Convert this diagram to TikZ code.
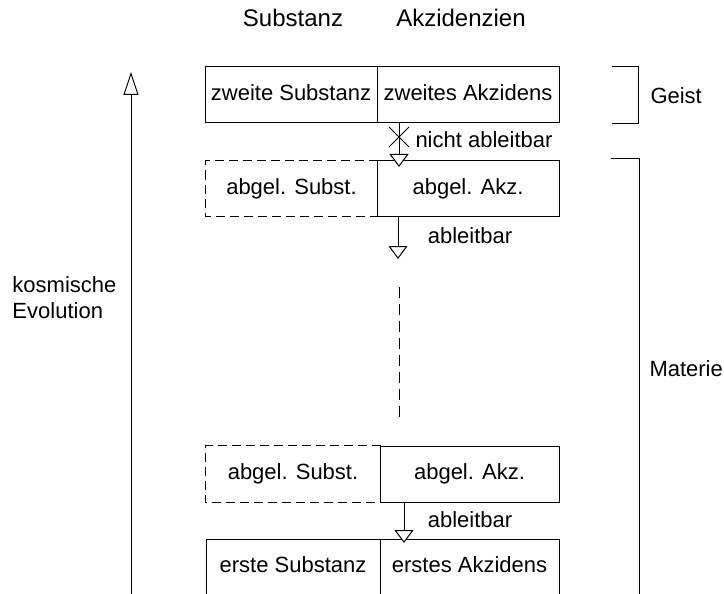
\documentclass[tikz,border=0pt]{standalone}
\usepackage{fontspec}
\setmainfont{Liberation Sans}
\usetikzlibrary{arrows.meta}
\tikzset{
  box/.style={draw, inner sep=0pt, minimum height=56pt, text height=16pt, text depth=5pt},
  dbox/.style={draw=none, inner sep=0pt, minimum height=56pt, text height=16pt, text depth=5pt},
  lbl/.style={inner sep=0pt},
  head/.style={inner sep=0pt, anchor=base, font=\fontsize{24}{28}\selectfont},
  arr/.style={-{Triangle[open, length=13pt, width=19pt, fill=white]}},
  bigarr/.style={-{Triangle[open, length=23pt, width=15pt, fill=white]}},
  dsh/.style={dash pattern=on 9pt off 5pt},
  vdsh/.style={dash pattern=on 11pt off 6pt},
}
\begin{document}
\begin{tikzpicture}[x=1pt, y=-1pt, line width=1pt, font=\fontsize{22}{26}\selectfont]
\clip (0,0) rectangle (724,594);
\fill[white] (0,0) rectangle (724,594);

% column headers
\node[head] (hsub) at (293,27) {Substanz};
\node[head] (hakz) at (461,27) {Akzidenzien};

% row 1
\node[box, minimum width=172pt] (zs) at (291,95) {zweite Substanz};
\node[box, minimum width=182pt] (za) at (468,95) {zweites Akzidens};

% row 2
\node[dbox, minimum width=171pt, minimum height=55pt] (as1) at (291.5,188.5) {abgel. Subst.};
\node[box, minimum width=182pt, minimum height=55pt] (aa1) at (468,188.5) {abgel. Akz.};
\draw[dsh] (as1.north east) -- (as1.north west) -- (as1.south west) -- (as1.south east);

% row 3
\node[dbox, minimum width=174pt] (as2) at (293,474) {abgel. Subst.};
\node[box, minimum width=179pt] (aa2) at (469.5,474) {abgel. Akz.};
\draw[dsh] (as2.north east) -- (as2.north west) -- (as2.south west) -- (as2.south east);

% row 4
\node[box, minimum width=174pt] (es) at (293,567) {erste Substanz};
\node[box, minimum width=179pt] (ea) at (469.5,567) {erstes Akzidens};

% arrow 1: nicht ableitbar
\coordinate (t1) at (399,167);
\draw[arr] (za.south -| t1) -- (t1);
\coordinate (c1) at (389,127);
\coordinate (c2) at (409,147);
\coordinate (c3) at (389,147);
\coordinate (c4) at (409,127);
\draw (c1) -- (c2);
\draw (c3) -- (c4);
\node[lbl, anchor=base west] (nab) at (415,147.5) {nicht ableitbar};

% arrow 2: ableitbar
\coordinate (t2) at (398,259);
\draw[arr] (aa1.south -| t2) -- (t2);
\node[lbl, anchor=base] (ab1) at (470,243) {ableitbar};

% dashed continuation
\coordinate (d1) at (399,287);
\coordinate (d2) at (399,417);
\draw[vdsh] (d1) -- (d2);

% arrow 3: ableitbar
\coordinate (t3) at (404,543);
\draw[arr] (aa2.south -| t3) -- (t3);
\node[lbl, anchor=base] (ab2) at (470,527) {ableitbar};

% Geist bracket
\coordinate (g1) at (612,67);
\coordinate (g2) at (638.5,67);
\coordinate (g3) at (638.5,124);
\coordinate (g4) at (612,124);
\draw (g1) -- (g2) -- (g3) -- (g4);
\node[lbl, anchor=base west] (geist) at (650,103) {Geist};

% Materie bracket
\coordinate (m1) at (611,159);
\coordinate (m2) at (639,159);
\coordinate (m3) at (639,600);
\draw (m1) -- (m2) -- (m3);
\node[lbl, anchor=base west] (materie) at (649,376) {Materie};

% cosmic evolution arrow
\coordinate (e0) at (131,600);
\coordinate (e1) at (131,72);
\draw[bigarr] (e0) -- (e1);
\node[lbl, anchor=base west] (kos) at (12,292) {kosmische};
\node[lbl, anchor=base west] (evo) at (12,318) {Evolution};
\end{tikzpicture}
\end{document}
